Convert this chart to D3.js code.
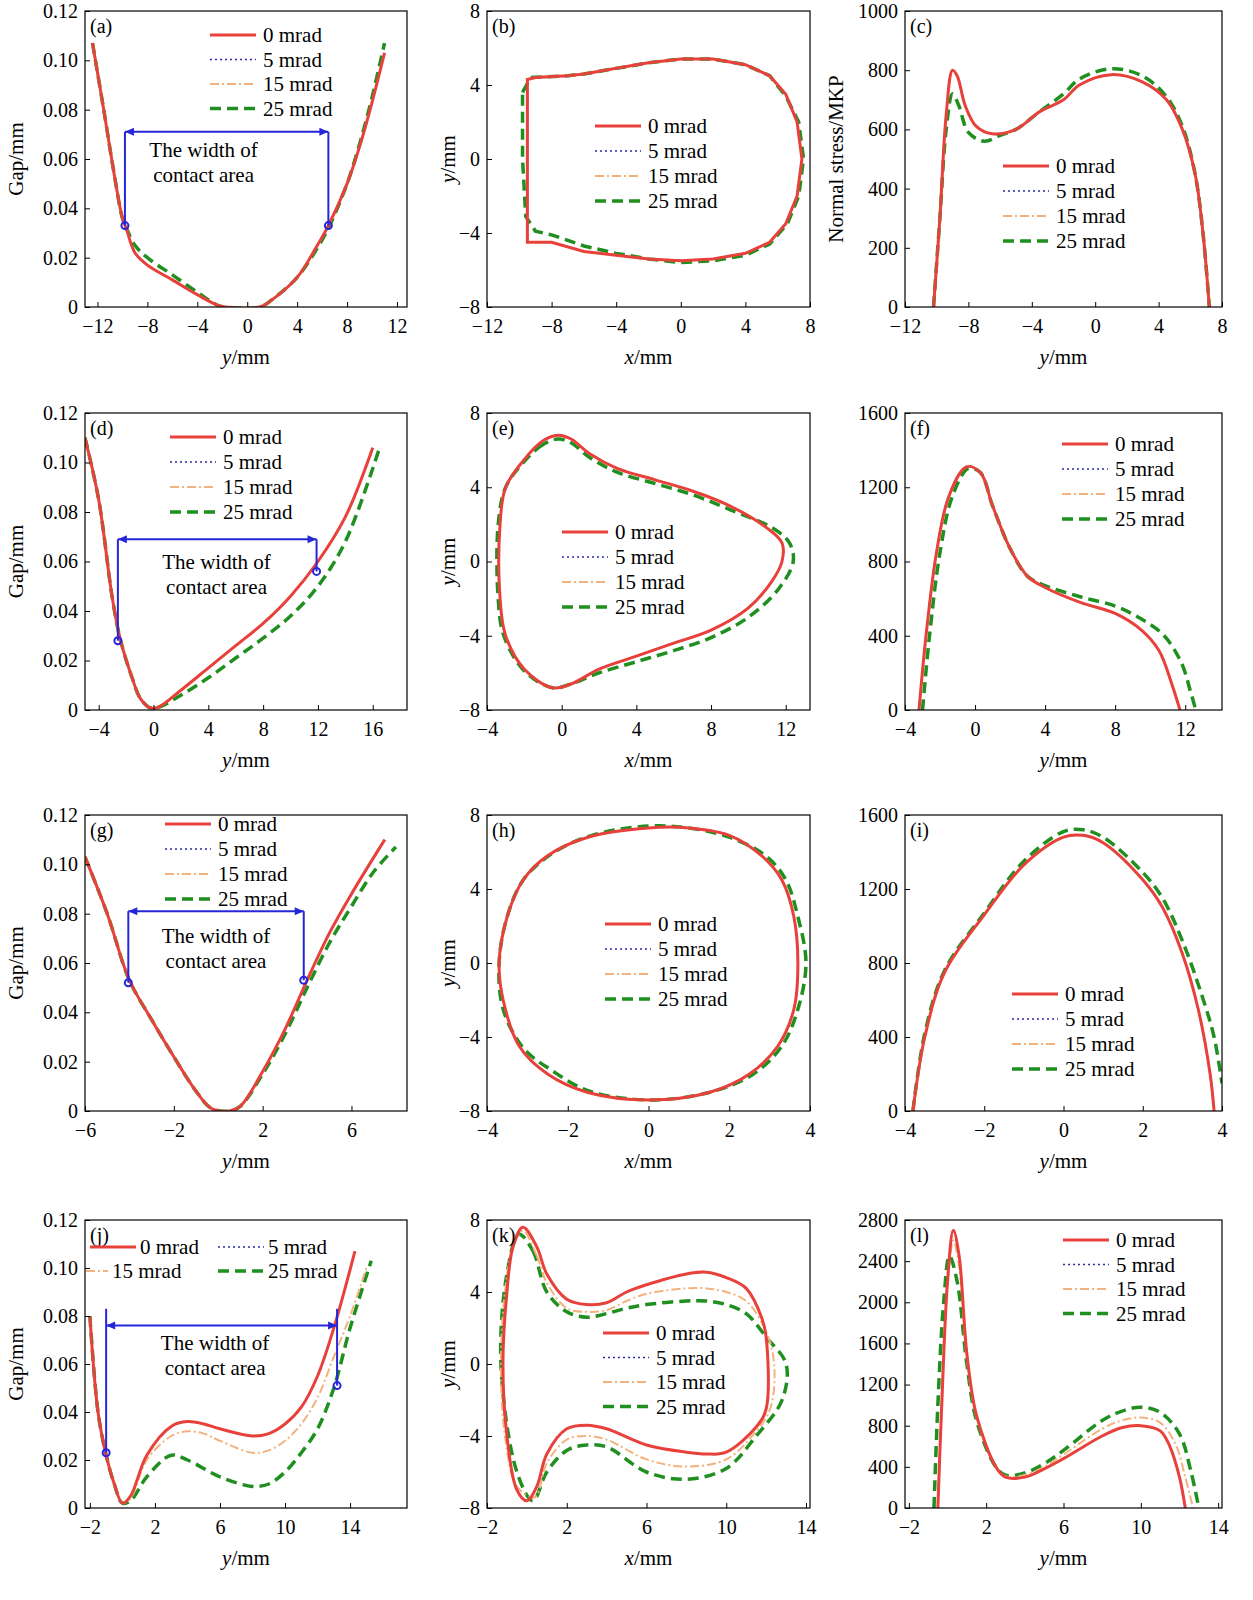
<!DOCTYPE html>
<html>
<head>
<meta charset="utf-8">
<script src="https://d3js.org/d3.v7.min.js"></script>
<style>
body { margin: 0; background: #fff; }
text { font-family: "Liberation Serif", "DejaVu Serif", serif; }
</style>
</head>
<body>
<div id="chart"></div>
<script>
const red = "#e8413c", blue = "#2b2ba8", orange = "#f2b27e", green = "#1f8f1f";
const seriesNames = ["0 mrad", "5 mrad", "15 mrad", "25 mrad"];

// ---- row 1 ----
const aGap0 = [[-12.4,0.107],[-11.5,0.08],[-10.6,0.052],[-10,0.036],[-9.7,0.032],[-9,0.022],[-8,0.017],[-6,0.011],[-4,0.005],[-2.5,0.001],[-1.8,0],[1,0],[2,0.003],[4,0.012],[5.5,0.024],[6.5,0.033],[8,0.05],[9,0.065],[10,0.083],[11,0.103]];
const aGap25 = [[-12.4,0.107],[-11.5,0.08],[-10.6,0.052],[-10,0.036],[-9.6,0.031],[-9,0.025],[-8,0.02],[-6,0.013],[-4,0.006],[-2.5,0.001],[-1.8,0],[1,0],[2,0.003],[4,0.012],[5.5,0.023],[6.5,0.032],[8,0.05],[9,0.066],[10,0.085],[11,0.107]];
const bCon0 = [[-9.5,4.3],[-9,4.4],[-7,4.5],[-6,4.6],[-4,4.9],[-2,5.2],[0,5.4],[2,5.4],[4,5.1],[5.5,4.5],[6.5,3.5],[7.2,2],[7.5,0],[7.2,-2],[6.5,-3.5],[5.5,-4.5],[4,-5.1],[2,-5.4],[0,-5.5],[-2,-5.4],[-4,-5.2],[-6,-5],[-8,-4.5],[-9.5,-4.5]];
const bCon25 = [[-9.8,3.6],[-9.3,4.4],[-7,4.5],[-6,4.6],[-4,4.9],[-2,5.2],[0,5.4],[2,5.4],[4,5.1],[5.5,4.5],[6.5,3.4],[7.3,2],[7.6,0],[7.3,-2],[6.6,-3.5],[5.5,-4.6],[4,-5.2],[2,-5.5],[0,-5.6],[-2,-5.4],[-4,-5.1],[-6,-4.7],[-8,-4.1],[-9,-3.9],[-9.6,-3.1],[-9.8,0]];
const cSt0 = [[-10.2,0],[-9.8,300],[-9.4,650],[-9,800],[-8.7,780],[-8.2,680],[-7.5,610],[-6.5,585],[-5,600],[-3.5,660],[-2,700],[-1,750],[1,785],[3,760],[4.5,700],[5.5,600],[6.3,450],[6.8,250],[7.2,0]];
const cSt25 = [[-10.2,0],[-9.8,300],[-9.4,600],[-9,720],[-8.6,680],[-8,590],[-7,560],[-6,580],[-5,600],[-3.5,660],[-2,720],[-1,770],[1,805],[3,780],[4.5,710],[5.5,610],[6.3,450],[6.8,250],[7.2,0]];
// ---- row 2 ----
const dGap0 = [[-5,0.11],[-4,0.085],[-3,0.045],[-2.4,0.028],[-1.5,0.012],[-1,0.005],[-0.3,0.001],[0.3,0.001],[2,0.008],[4,0.017],[6,0.026],[8,0.035],[10,0.046],[12,0.06],[14,0.078],[16,0.106]];
const dGap25 = [[-5,0.11],[-4,0.085],[-3,0.045],[-2.4,0.028],[-1.5,0.012],[-1,0.005],[-0.3,0.001],[0.3,0.001],[2,0.006],[4,0.013],[6,0.021],[8,0.029],[10,0.038],[12,0.05],[14,0.068],[16.5,0.106]];
const eCon0 = [[-0.2,6.8],[-1,6.5],[-2,5.5],[-3,4],[-3.3,2],[-3.3,-2],[-3,-4],[-2,-5.8],[-0.5,-6.8],[0.5,-6.6],[2,-5.8],[4,-5.1],[6,-4.4],[8,-3.7],[10,-2.5],[11.3,-1],[11.8,0],[11.8,1],[11,1.8],[9,3],[7,3.8],[5,4.4],[3,5],[1.5,5.8],[0.5,6.6]];
const eCon25 = [[-0.2,6.6],[-1,6.3],[-2,5.4],[-3,4],[-3.4,2],[-3.4,-2],[-3.1,-4],[-2,-5.9],[-0.5,-6.8],[0.5,-6.6],[2,-6],[4,-5.4],[6,-4.8],[8,-4.1],[10,-3],[11.6,-1.5],[12.4,0],[12.2,1],[11.3,1.8],[9,2.8],[7,3.6],[5,4.2],[3,4.8],[1.5,5.6],[0.5,6.4]];
const fSt0 = [[-3.2,0],[-2.8,400],[-2.2,850],[-1.5,1150],[-0.5,1310],[0.3,1280],[1,1100],[2,870],[3,720],[4,660],[6,580],[8,520],[9.5,430],[10.5,320],[11.2,150],[11.7,0]];
const fSt25 = [[-3,0],[-2.6,400],[-2,850],[-1.3,1150],[-0.4,1300],[0.3,1280],[1,1100],[2,870],[3,720],[4,670],[6,610],[8,560],[9.5,490],[10.8,400],[11.8,250],[12.3,100],[12.6,0]];
// ---- row 3 ----
const gGap0 = [[-6,0.103],[-5,0.08],[-4,0.053],[-3,0.037],[-2,0.022],[-1,0.008],[-0.3,0.001],[0.5,0],[1,0.002],[2,0.016],[3,0.033],[4,0.053],[5,0.072],[6,0.088],[7.5,0.11]];
const gGap25 = [[-6,0.103],[-5,0.08],[-4,0.053],[-3,0.037],[-2,0.022],[-1,0.008],[-0.3,0.001],[0.5,0],[1,0.002],[2,0.015],[3,0.031],[4,0.05],[5,0.068],[6,0.083],[7,0.097],[8,0.107]];
const hCon0 = [[0,7.3],[1,7.3],[2,6.9],[2.8,5.8],[3.3,4.5],[3.6,2.5],[3.7,0],[3.6,-2.5],[3.2,-4.5],[2.5,-6],[1.5,-7],[0,-7.4],[-1.5,-7],[-2.5,-6],[-3.2,-4.5],[-3.6,-2],[-3.7,0],[-3.5,2.5],[-3.1,4.5],[-2.5,5.8],[-1.5,6.8]];
const hCon25 = [[0,7.4],[1,7.3],[2,6.8],[2.9,5.8],[3.4,4.5],[3.7,2.5],[3.9,0],[3.7,-2.5],[3.3,-4.5],[2.6,-6],[1.5,-7],[0,-7.4],[-1.5,-6.9],[-2.4,-5.8],[-3.1,-4.6],[-3.6,-2.5],[-3.7,0],[-3.5,2.5],[-3.1,4.5],[-2.4,5.9],[-1.4,6.9]];
const iSt0 = [[-3.8,0],[-3.5,400],[-3,750],[-2,1060],[-1,1330],[0,1480],[0.5,1490],[1,1450],[2,1250],[2.5,1100],[3,850],[3.4,550],[3.7,200],[3.8,0]];
const iSt25 = [[-3.8,0],[-3.5,420],[-3,760],[-2,1070],[-1,1350],[0,1510],[0.5,1520],[1,1480],[2,1290],[2.5,1150],[3,920],[3.5,620],[3.8,400],[4,150]];
// ---- row 4 ----
const jGap0 = [[-2,0.08],[-1.5,0.04],[-1,0.022],[-0.5,0.01],[0,0.002],[0.5,0.005],[1.5,0.022],[3,0.034],[4,0.036],[5,0.035],[6,0.033],[8,0.03],[9,0.031],[10,0.035],[11,0.042],[12,0.055],[13,0.075],[14.3,0.107]];
const jGap15 = [[-2,0.08],[-1.5,0.04],[-1,0.022],[-0.5,0.01],[0,0.002],[0.5,0.004],[1.5,0.02],[3,0.03],[4,0.032],[5,0.031],[6,0.028],[8,0.023],[9,0.024],[10,0.028],[11,0.035],[12,0.046],[13,0.063],[14,0.08],[15,0.1]];
const jGap25 = [[-2,0.08],[-1.5,0.04],[-1,0.022],[-0.5,0.01],[0,0.002],[0.5,0.003],[1.5,0.013],[3,0.022],[4,0.02],[6,0.013],[8,0.009],[9,0.01],[10,0.015],[11,0.023],[12,0.033],[13,0.05],[14,0.075],[15.3,0.103]];
const kCon0 = [[-0.2,7.6],[0.5,6.5],[1,5],[2,3.6],[3,3.3],[4,3.4],[5,4],[6,4.4],[8,5],[9,5.1],[10,4.8],[11,4.2],[11.8,2.5],[12,1.5],[12,-2.5],[11.5,-3.5],[10,-4.9],[9,-5],[8,-4.9],[6,-4.5],[4,-3.6],[3,-3.4],[2,-3.6],[1,-5],[0.5,-6.8],[0,-7.6],[-0.5,-7],[-1,-4],[-1.2,0],[-1,4],[-0.7,6.5]];
const kCon15 = [[-0.2,7.4],[0.5,6],[1,4.5],[2,3.1],[3,2.9],[4,3],[5,3.5],[6,3.9],[8,4.2],[9,4.2],[10,4],[11,3.5],[12,1.8],[12.4,0],[12.2,-2.5],[11.3,-4],[10,-5.3],[8,-5.7],[6,-5.3],[4,-4.2],[3,-4],[2,-4.2],[1,-5.5],[0.4,-7.4],[-0.5,-6.8],[-1.1,-4],[-1.3,0],[-1.1,4],[-0.7,6.5]];
const kCon25 = [[-0.4,7.2],[0.3,6.3],[1,4],[2,2.9],[3,2.6],[4,2.8],[5,3.1],[6,3.3],[8,3.5],[9,3.5],[10,3.3],[11,2.8],[12,1.5],[13,0],[12.8,-2],[11.5,-4],[10,-5.8],[8,-6.4],[6,-6],[4,-4.6],[3,-4.5],[2,-4.8],[1,-6],[0.3,-7.6],[-0.5,-6],[-1.3,0],[-1,5]];
const lSt0 = [[-0.5,0],[-0.3,1000],[0,2200],[0.3,2700],[0.6,2450],[1,1500],[1.5,900],[2.5,400],[3,300],[4,300],[5,380],[6,480],[8,700],[9,780],[10,800],[11,750],[11.5,600],[12,300],[12.3,0]];
const lSt15 = [[-0.5,0],[-0.3,1000],[0,2150],[0.3,2600],[0.6,2350],[1,1450],[1.5,880],[2.5,400],[3,310],[4,320],[5,400],[6,520],[8,770],[9,850],[10,880],[11,830],[11.8,620],[12.3,300],[12.7,0]];
const lSt25 = [[-0.7,0],[-0.5,1000],[-0.2,2000],[0.1,2450],[0.5,2200],[1,1400],[1.5,850],[2.5,400],[3,320],[4,340],[5,430],[6,560],[8,850],[9,940],[10,980],[11,930],[12,720],[12.6,350],[13,0]];

const cols = [[85, 407], [487, 810], [905, 1222]];
const rows = [[11, 307], [413, 710], [815, 1111], [1220, 1508]];
const panels = [
  {id:"(a)", c:0, r:0, x:[-13,12.8], y:[0,0.12], xt:[-12,-8,-4,0,4,8,12], yt:[0,0.02,0.04,0.06,0.08,0.1,0.12], s:[aGap0,aGap0,aGap0,aGap25], xl:"y", yl:"Gap/mm",
   width:{y:0.071, a:-9.8, b:6.5, ya:0.033, yb:0.033, tx:-3.5, ty:0.061}, leg:[210, 35, 24.5]},
  {id:"(b)", c:1, r:0, x:[-12,8], y:[-8,8], xt:[-12,-8,-4,0,4,8], yt:[-8,-4,0,4,8], s:[bCon0,bCon0,bCon0,bCon25], closed:true, linear:true, xl:"x", yl:"y", leg:[595,126,25]},
  {id:"(c)", c:2, r:0, x:[-12,8], y:[0,1000], xt:[-12,-8,-4,0,4,8], yt:[0,200,400,600,800,1000], s:[cSt0,cSt0,cSt0,cSt25], xl:"y", yl:"Normal stress/MKP", leg:[1003,166,25]},
  {id:"(d)", c:0, r:1, x:[-5,18.5], y:[0,0.12], xt:[-4,0,4,8,12,16], yt:[0,0.02,0.04,0.06,0.08,0.1,0.12], s:[dGap0,dGap0,dGap0,dGap25], xl:"y", yl:"Gap/mm",
   width:{y:0.069, a:-2.6, b:11.9, ya:0.028, yb:0.056, tx:4.6, ty:0.057}, leg:[170,437,25]},
  {id:"(e)", c:1, r:1, x:[-4,13.3], y:[-8,8], xt:[-4,0,4,8,12], yt:[-8,-4,0,4,8], s:[eCon0,eCon0,eCon0,eCon25], closed:true, xl:"x", yl:"y", leg:[562,532,25]},
  {id:"(f)", c:2, r:1, x:[-4,14.1], y:[0,1600], xt:[-4,0,4,8,12], yt:[0,400,800,1200,1600], s:[fSt0,fSt0,fSt0,fSt25], xl:"y", yl:"", leg:[1062,444,25]},
  {id:"(g)", c:0, r:2, x:[-6,8.5], y:[0,0.12], xt:[-6,-2,2,6], yt:[0,0.02,0.04,0.06,0.08,0.1,0.12], s:[gGap0,gGap0,gGap0,gGap25], xl:"y", yl:"Gap/mm",
   width:{y:0.081, a:-4.05, b:3.85, ya:0.052, yb:0.053, tx:-0.1, ty:0.068}, leg:[165,824,25]},
  {id:"(h)", c:1, r:2, x:[-4,4], y:[-8,8], xt:[-4,-2,0,2,4], yt:[-8,-4,0,4,8], s:[hCon0,hCon0,hCon0,hCon25], closed:true, xl:"x", yl:"y", leg:[605,924,25]},
  {id:"(i)", c:2, r:2, x:[-4,4], y:[0,1600], xt:[-4,-2,0,2,4], yt:[0,400,800,1200,1600], s:[iSt0,iSt0,iSt0,iSt25], xl:"y", yl:"", leg:[1012,994,25]},
  {id:"(j)", c:0, r:3, x:[-2.3,17.5], y:[0,0.12], xt:[-2,2,6,10,14], yt:[0,0.02,0.04,0.06,0.08,0.1,0.12], s:[jGap0,jGap0,jGap15,jGap25], xl:"y", yl:"Gap/mm",
   width:{y:0.076, a:-1, b:13.2, ya:0.023, yb:0.051, top:0.083, tx:5.7, ty:0.066}, leg2:true},
  {id:"(k)", c:1, r:3, x:[-2,14.2], y:[-8,8], xt:[-2,2,6,10,14], yt:[-8,-4,0,4,8], s:[kCon0,kCon0,kCon15,kCon25], closed:true, xl:"x", yl:"y", leg:[603,1333,24.5]},
  {id:"(l)", c:2, r:3, x:[-2.2,14.2], y:[0,2800], xt:[-2,2,6,10,14], yt:[0,400,800,1200,1600,2000,2400,2800], s:[lSt0,lSt0,lSt15,lSt25], xl:"y", yl:"", leg:[1063,1240,24.5]}
];

const styles = [
  {color: red, w: 3, dash: null},
  {color: blue, w: 1.6, dash: "2,3"},
  {color: orange, w: 2, dash: "9,3,2,3"},
  {color: green, w: 3.5, dash: "11,6"}
];

const svg = d3.select("#chart").append("svg").attr("width", 1253).attr("height", 1600);

function tickFmt(v) {
  if (Math.abs(v) < 1e-9) return "0";
  return d3.format("~g")(v).replace("-", "\u2212");
}

panels.forEach(p => {
  const [x0, x1] = cols[p.c], [y0, y1] = rows[p.r];
  const xs = d3.scaleLinear().domain(p.x).range([x0, x1]);
  const ys = d3.scaleLinear().domain(p.y).range([y1, y0]);
  const g = svg.append("g");
  const clipId = "clip" + p.c + p.r;
  g.append("clipPath").attr("id", clipId).append("rect")
    .attr("x", x0).attr("y", y0 - 2).attr("width", x1 - x0).attr("height", y1 - y0 + 2);

  const curve = p.closed ? (p.linear ? d3.curveLinearClosed : d3.curveCatmullRomClosed) : d3.curveCatmullRom;
  const line = d3.line().x(d => xs(d[0])).y(d => ys(d[1])).curve(curve);
  const plot = g.append("g").attr("clip-path", `url(#${clipId})`);
  [3, 2, 1, 0].forEach(i => {
    plot.append("path").attr("d", line(p.s[i])).attr("fill", "none")
      .attr("stroke", styles[i].color).attr("stroke-width", styles[i].w)
      .attr("stroke-dasharray", styles[i].dash);
  });

  const fmt = p.y[1] < 1 ? (v => v === 0 ? "0" : d3.format(".2f")(v)) : tickFmt;
  g.append("g").attr("transform", `translate(0,${y1})`)
    .call(d3.axisBottom(xs).tickValues(p.xt).tickSizeInner(-5).tickSizeOuter(0).tickFormat(tickFmt))
    .call(a => { a.select(".domain").remove(); a.selectAll("line").attr("stroke", "#000");
      a.selectAll("text").attr("font-size", 20).attr("dy", "1.15em").attr("fill", "#000")
        .attr("font-family", "Liberation Serif"); });
  g.append("g").attr("transform", `translate(${x0},0)`)
    .call(d3.axisLeft(ys).tickValues(p.yt).tickSizeInner(-5).tickSizeOuter(0).tickFormat(fmt))
    .call(a => { a.select(".domain").remove(); a.selectAll("line").attr("stroke", "#000");
      a.selectAll("text").attr("font-size", 20).attr("dx", "-0.2em").attr("fill", "#000")
        .attr("font-family", "Liberation Serif"); });
  g.append("rect").attr("x", x0).attr("y", y0).attr("width", x1 - x0).attr("height", y1 - y0)
    .attr("fill", "none").attr("stroke", "#000").attr("stroke-width", 1.2);

  g.append("text").attr("x", x0 + 5).attr("y", y0 + 22).attr("font-size", 20).text(p.id);

  const xt = g.append("text").attr("x", (x0 + x1) / 2).attr("y", y1 + 57)
    .attr("text-anchor", "middle").attr("font-size", 21);
  xt.append("tspan").attr("font-style", "italic").text(p.xl);
  xt.append("tspan").text("/mm");
  if (p.yl) {
    const yx = p.yl === "y" ? x0 - 32 : x0 - 62;
    const yt = g.append("text").attr("transform", `translate(${yx},${(y0 + y1) / 2}) rotate(-90)`)
      .attr("text-anchor", "middle").attr("font-size", 21);
    if (p.yl === "y") { yt.append("tspan").attr("font-style", "italic").text("y"); yt.append("tspan").text("/mm"); }
    else yt.text(p.yl);
  }

  if (p.width) {
    const w = p.width, top = w.top || w.y;
    [[w.a, w.ya], [w.b, w.yb]].forEach(([xv, yv]) => {
      g.append("line").attr("x1", xs(xv)).attr("x2", xs(xv)).attr("y1", ys(top)).attr("y2", ys(yv))
        .attr("stroke", "#2626d9").attr("stroke-width", 2);
      g.append("circle").attr("cx", xs(xv)).attr("cy", ys(yv)).attr("r", 3.5)
        .attr("fill", "none").attr("stroke", "#2626d9").attr("stroke-width", 2);
    });
    const ya = ys(w.y), xa = xs(w.a), xb = xs(w.b);
    g.append("line").attr("x1", xa).attr("x2", xb).attr("y1", ya).attr("y2", ya)
      .attr("stroke", "#2626d9").attr("stroke-width", 2);
    g.append("path").attr("d", `M${xa},${ya}l9,-4v8z M${xb},${ya}l-9,-4v8z`).attr("fill", "#2626d9");
    const t = g.append("text").attr("x", xs(w.tx)).attr("y", ys(w.ty)).attr("text-anchor", "middle").attr("font-size", 21);
    t.append("tspan").attr("x", xs(w.tx)).text("The width of");
    t.append("tspan").attr("x", xs(w.tx)).attr("dy", 25).text("contact area");
  }

  if (p.leg) {
    const [lx, ly, step] = p.leg;
    seriesNames.forEach((n, i) => {
      const yy = ly + i * step;
      g.append("line").attr("x1", lx).attr("x2", lx + 46).attr("y1", yy).attr("y2", yy)
        .attr("stroke", styles[i].color).attr("stroke-width", styles[i].w).attr("stroke-dasharray", styles[i].dash);
      g.append("text").attr("x", lx + 53).attr("y", yy + 7).attr("font-size", 21).text(n);
    });
  }
  if (p.leg2) {
    const spots = [[90, 1247, 46, 140], [218, 1247, 46, 268], [86, 1271, 22, 112], [218, 1271, 46, 268]];
    seriesNames.forEach((n, i) => {
      const [lx, yy, len, tx] = spots[i];
      g.append("line").attr("x1", lx).attr("x2", lx + len).attr("y1", yy).attr("y2", yy)
        .attr("stroke", styles[i].color).attr("stroke-width", styles[i].w).attr("stroke-dasharray", styles[i].dash);
      g.append("text").attr("x", tx).attr("y", yy + 7).attr("font-size", 21).text(n);
    });
  }
});
</script>
</body>
</html>
